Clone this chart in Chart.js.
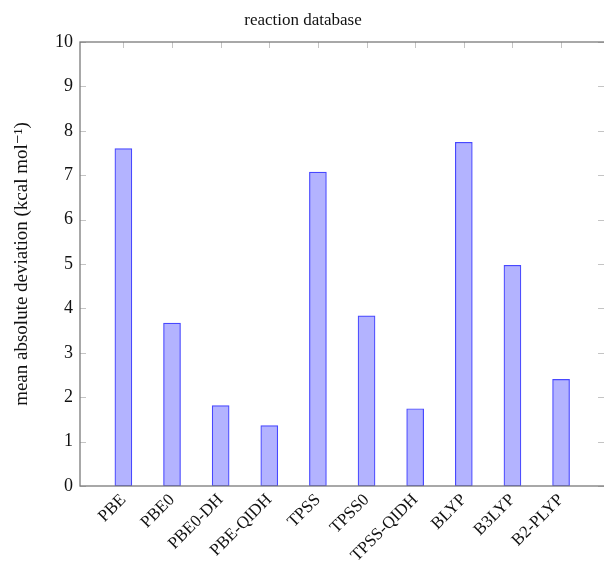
<!DOCTYPE html>
<html>
<head>
<meta charset="utf-8">
<script src="https://cdn.jsdelivr.net/npm/chart.js@4/dist/chart.umd.min.js"></script>
<style>
  html, body { margin: 0; padding: 0; overflow: hidden; background: #fff; }
  #wrap { width: 610px; height: 576px; position: relative; }
</style>
</head>
<body>
<div id="wrap"><canvas id="c"></canvas></div>
<script>
// Functionals and their mean absolute deviations (kcal/mol)
const functionals = ['PBE', 'PBE0', 'PBE0-DH', 'PBE-QIDH', 'TPSS', 'TPSS0', 'TPSS-QIDH', 'BLYP', 'B3LYP', 'B2-PLYP'];
const meanAbsDev  = [7.60, 3.67, 1.81, 1.36, 7.07, 3.83, 1.74, 7.74, 4.97, 2.40];
const yTicks      = [0, 1, 2, 3, 4, 5, 6, 7, 8, 9, 10];

const serif = '"Liberation Serif", "DejaVu Serif", serif';

// Box frame plus short inward tick marks (pgfplots style)
const framePlugin = {
  id: 'frame',
  afterDraw(chart) {
    const { ctx, chartArea: a, scales: { x, y } } = chart;
    ctx.save();
    ctx.strokeStyle = '#c4c4c4';
    ctx.lineWidth = 1;
    ctx.beginPath();
    yTicks.forEach(v => {
      const py = Math.round(y.getPixelForValue(v)) + 0.5;
      ctx.moveTo(a.left, py); ctx.lineTo(a.left + 6, py);
      ctx.moveTo(a.right - 8, py); ctx.lineTo(a.right, py);
    });
    functionals.forEach((_, i) => {
      const px = Math.round(x.getPixelForValue(i)) + 0.5;
      ctx.moveTo(px, a.top); ctx.lineTo(px, a.top + 6);
    });
    ctx.stroke();
    ctx.strokeStyle = '#7a7a7a';
    ctx.lineWidth = 1.3;
    ctx.strokeRect(a.left, a.top, a.right - a.left, a.bottom - a.top);
    ctx.restore();
  }
};

Chart.defaults.color = '#111';
Chart.defaults.font.family = serif;

new Chart(document.getElementById('c'), {
  type: 'bar',
  data: {
    datasets: [{
      data: meanAbsDev.map((v, i) => ({ x: i, y: v })),
      backgroundColor: 'rgb(179,179,255)',
      borderColor: 'rgb(72,72,255)',
      borderWidth: 1.2,
      borderSkipped: false,
      barThickness: 17
    }]
  },
  options: {
    responsive: true,
    maintainAspectRatio: false,
    animation: false,
    devicePixelRatio: 1,
    layout: { padding: { left: 0, right: 4, top: 0, bottom: 0 } },
    plugins: {
      legend: { display: false },
      tooltip: { enabled: false },
      title: {
        display: true,
        text: 'reaction database',
        color: '#111',
        font: { family: serif, size: 17, weight: 'normal', lineHeight: 1.2 },
        padding: { top: 10, bottom: 11.6 }
      }
    },
    scales: {
      x: {
        type: 'linear',
        offset: false,
        min: -0.892,
        max: 9.924,
        grid: { display: false, drawTicks: false },
        border: { display: false },
        afterBuildTicks: s => { s.ticks = functionals.map((_, i) => ({ value: i })); },
        afterFit: s => { s.height = 90; },
        ticks: {
          autoSkip: false,
          minRotation: 45,
          maxRotation: 45,
          padding: 4,
          font: { family: serif, size: 17 },
          callback: v => functionals[Math.round(v)]
        }
      },
      y: {
        min: 0,
        max: 10,
        grid: { display: false, drawTicks: false },
        border: { display: false },
        afterBuildTicks: s => { s.ticks = yTicks.map(v => ({ value: v })); },
        afterFit: s => { s.width = 80; },
        ticks: { padding: 7, font: { family: serif, size: 18 } },
        title: {
          display: true,
          text: 'mean absolute deviation (kcal mol\u207B\u00B9)',
          font: { family: serif, size: 19 },
          padding: { top: 10.5, bottom: 0 }
        }
      }
    }
  },
  plugins: [framePlugin]
});
</script>
</body>
</html>
